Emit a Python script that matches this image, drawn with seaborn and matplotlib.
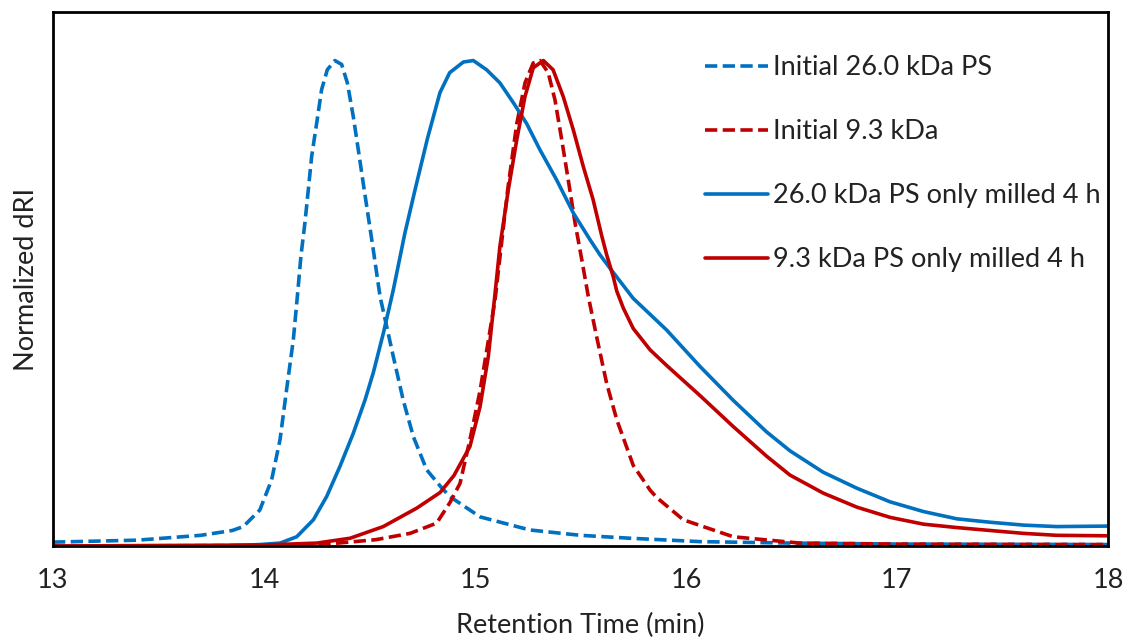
import numpy as np
import pandas as pd
import matplotlib
matplotlib.use("Agg")
import matplotlib.pyplot as plt
import seaborn as sns

# Initial 26.0 kDa PS (blue dashed)
t_init26 = [13.0, 13.4, 13.7, 13.85, 13.902, 13.98, 14.036, 14.076, 14.107, 14.139, 14.161,
            14.175, 14.194, 14.21, 14.226, 14.25, 14.273, 14.30, 14.336, 14.368, 14.395,
            14.423, 14.447, 14.47, 14.494, 14.518, 14.55, 14.613, 14.66, 14.708, 14.771,
            14.834, 14.88, 15.024, 15.26, 15.5, 15.735, 16.066, 16.5, 17.0, 18.0]
y_init26 = [0.008, 0.012, 0.022, 0.032, 0.040, 0.074, 0.136, 0.219, 0.322, 0.425, 0.528,
            0.597, 0.666, 0.734, 0.803, 0.872, 0.940, 0.981, 1.0, 0.992, 0.954,
            0.885, 0.816, 0.748, 0.679, 0.610, 0.514, 0.39, 0.30, 0.225, 0.157,
            0.124, 0.102, 0.06, 0.033, 0.022, 0.016, 0.009, 0.006, 0.004, 0.003]

# Initial 9.3 kDa (red dashed)
t_init93 = [13.0, 14.0, 14.3, 14.53, 14.692, 14.818, 14.882, 14.929, 14.976, 15.024,
            15.095, 15.155, 15.198, 15.237, 15.276, 15.308, 15.347, 15.379, 15.411, 15.442,
            15.474, 15.506, 15.537, 15.577, 15.624, 15.672, 15.75, 15.83, 15.861, 15.987,
            16.224, 16.54, 17.0, 18.0]
y_init93 = [0.0, 0.001, 0.004, 0.013, 0.026, 0.047, 0.09, 0.129, 0.219, 0.32,
            0.507, 0.734, 0.87, 0.954, 0.995, 1.0, 0.975, 0.919, 0.837, 0.754,
            0.666, 0.59, 0.514, 0.43, 0.335, 0.26, 0.166, 0.115, 0.10, 0.054,
            0.019, 0.006, 0.004, 0.003]

# 26.0 kDa PS only milled 4 h (blue solid)
t_mill26 = [13.0, 13.8, 13.98, 14.076, 14.155, 14.234, 14.297, 14.36, 14.423, 14.479, 14.518,
            14.566, 14.613, 14.668, 14.716, 14.775, 14.834, 14.88, 14.945, 14.992, 15.055,
            15.118, 15.182, 15.245, 15.308, 15.387, 15.466, 15.545, 15.592, 15.64, 15.75,
            15.908, 16.066, 16.224, 16.382, 16.493, 16.65, 16.81, 16.967, 17.125,
            17.283, 17.44, 17.6, 17.757, 18.0]
y_mill26 = [0.0, 0.0, 0.003, 0.006, 0.019, 0.054, 0.102, 0.164, 0.232, 0.301, 0.357,
            0.439, 0.528, 0.645, 0.734, 0.84, 0.934, 0.975, 0.997, 1.0, 0.981,
            0.954, 0.913, 0.87, 0.816, 0.754, 0.686, 0.631, 0.600, 0.572, 0.51,
            0.445, 0.37, 0.30, 0.235, 0.196, 0.152, 0.119, 0.091, 0.071,
            0.056, 0.049, 0.043, 0.040, 0.041]

# 9.3 kDa PS only milled 4 h (red solid)
t_mill93 = [13.0, 14.0, 14.25, 14.408, 14.565, 14.724, 14.834, 14.9, 14.976, 15.024, 15.063,
            15.095, 15.118, 15.158, 15.198, 15.237, 15.276, 15.324, 15.37, 15.418, 15.466,
            15.513, 15.56, 15.6, 15.624, 15.655, 15.672, 15.703, 15.75, 15.83, 15.908,
            16.066, 16.224, 16.382, 16.493, 16.54, 16.65, 16.81, 16.967, 17.125, 17.283,
            17.44, 17.6, 17.757, 18.0]
y_mill93 = [0.0, 0.002, 0.006, 0.016, 0.040, 0.078, 0.110, 0.145, 0.205, 0.287, 0.39,
            0.52, 0.617, 0.734, 0.837, 0.926, 0.985, 1.0, 0.981, 0.926, 0.857,
            0.782, 0.713, 0.64, 0.60, 0.555, 0.525, 0.49, 0.448, 0.404, 0.372,
            0.31, 0.246, 0.185, 0.146, 0.135, 0.109, 0.080, 0.059, 0.045, 0.038,
            0.032, 0.026, 0.022, 0.021]

labels = ["Initial 26.0 kDa PS", "Initial 9.3 kDa",
          "26.0 kDa PS only milled 4 h", "9.3 kDa PS only milled 4 h"]
blue = "#0070C0"
red = "#C00000"
txtc = "#222222"
fs = 19.5

sns.set_theme(style="white")
plt.rcParams['font.family'] = ['Lato', 'DejaVu Sans']

fig = plt.figure(figsize=(11.28, 6.38), dpi=100)
ax = fig.add_axes([53/1128, (638-546)/638, (1108-53)/1128, (546-12)/638])

dash = (0, (3.4, 1.5))
series = [
    (t_init26, y_init26, labels[0], blue, dash),
    (t_init93, y_init93, labels[1], red, dash),
    (t_mill26, y_mill26, labels[2], blue, "-"),
    (t_mill93, y_mill93, labels[3], red, "-"),
]
for t, y, lab, col, ls in series:
    df = pd.DataFrame({"t": t, "y": y})
    sns.lineplot(data=df, x="t", y="y", ax=ax, color=col, linewidth=2.6,
                 linestyle=ls, label=lab)

ax.set_xlim(13, 18)
ax.set_ylim(0, 1.1)
ax.set_xticks([13, 14, 15, 16, 17, 18])
ax.set_yticks([])
ax.tick_params(axis='x', labelsize=fs, length=0, pad=16, colors=txtc)
ax.set_xlabel("Retention Time (min)", fontsize=fs, color=txtc, labelpad=14)
ax.set_ylabel("Normalized dRI", fontsize=fs, color=txtc, labelpad=10)
for s in ax.spines.values():
    s.set_color("black")
    s.set_linewidth(2.0)

leg = ax.legend(loc="upper left", bbox_to_anchor=(0.618, 0.919), frameon=False,
                fontsize=fs, handlelength=2.33, handletextpad=0.19, labelspacing=1.44,
                borderaxespad=0, borderpad=0)
for txt in leg.get_texts():
    txt.set_color(txtc)

fig.savefig("out.png", dpi=100)
